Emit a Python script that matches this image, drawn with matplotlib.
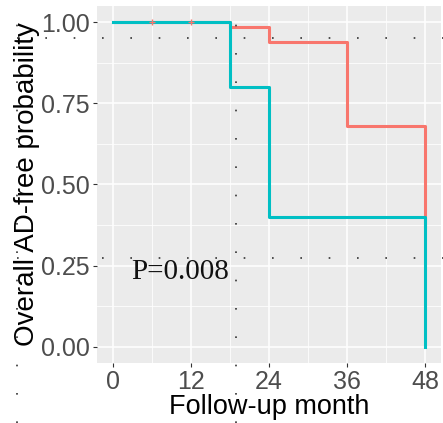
import matplotlib
matplotlib.use("Agg")
import matplotlib.pyplot as plt
from matplotlib.lines import Line2D
import numpy as np

# Data (step survival curves)
red_times = [0, 18, 24, 36, 48]
red_surv = [1.00, 0.985, 0.94, 0.68, 0.37]
blue_times = [0, 18, 24, 48]
blue_surv = [1.00, 0.80, 0.40, 0.00]
red_censor_t = [6, 12]
x_ticks = [0, 12, 24, 36, 48]
y_ticks = [0.00, 0.25, 0.50, 0.75, 1.00]
y_ticklabels = ["0.00", "0.25", "0.50", "0.75", "1.00"]
p_text = "P=0.008"

W, H = 443, 423
fig = plt.figure(figsize=(W / 100, H / 100), dpi=100)
ax = fig.add_axes([97 / W, 1 - 363 / H, (441 - 97) / W, (363 - 6) / H])
ax.set_facecolor("#EBEBEB")
for s in ax.spines.values():
    s.set_visible(False)

ax.set_xlim(-2.4, 50.4)
ax.set_ylim(-0.05, 1.05)
ax.set_xticks(x_ticks)
ax.set_yticks(y_ticks)
ax.set_yticklabels(y_ticklabels)
ax.set_xticks([6, 18, 30, 42], minor=True)
ax.set_yticks([0.125, 0.375, 0.625, 0.875], minor=True)
ax.grid(which="major", color="white", linewidth=1.1)
ax.grid(which="minor", color="white", linewidth=0.55)
ax.set_axisbelow(True)
ax.tick_params(which="major", length=3, color="#333333", width=0.8,
               labelsize=18, labelcolor="#4D4D4D", pad=2)
ax.tick_params(which="minor", length=0)
for lab in ax.get_xticklabels() + ax.get_yticklabels():
    lab.set_family(["Liberation Sans", "DejaVu Sans"])

ax.step(red_times, red_surv, where="post", color="#F8766D", linewidth=2.2)
ax.step(blue_times, blue_surv, where="post", color="#00BFC4", linewidth=2.2)
ax.plot(red_censor_t, [1.0] * len(red_censor_t), marker="+", linestyle="none",
        color="#F8766D", markersize=4, markeredgewidth=1)

ax.set_xlabel("Follow-up month", fontsize=19.5, family=["Liberation Sans", "DejaVu Sans"],
              labelpad=0)
ax.set_ylabel("Overall AD-free probability", fontsize=20,
              family=["Liberation Sans", "DejaVu Sans"], labelpad=1)

ax.text(2.8, 0.23, p_text, fontsize=21, family=["Liberation Serif", "DejaVu Serif"],
        color="#111111", va="center", ha="left")

# dotted overlay guides (from the screenshot)
for yp in [38, 258]:
    fig.add_artist(Line2D([17 / W, 1.0], [1 - yp / H, 1 - yp / H], transform=fig.transFigure,
                          linestyle=(0, (1, 16)), color="#333333", linewidth=1.2))
for xp in [17, 236]:
    fig.add_artist(Line2D([xp / W, xp / W], [0.0, 1.0], transform=fig.transFigure,
                          linestyle=(0, (1, 16)), color="#333333", linewidth=1.2))

fig.savefig("out.png", dpi=100)
